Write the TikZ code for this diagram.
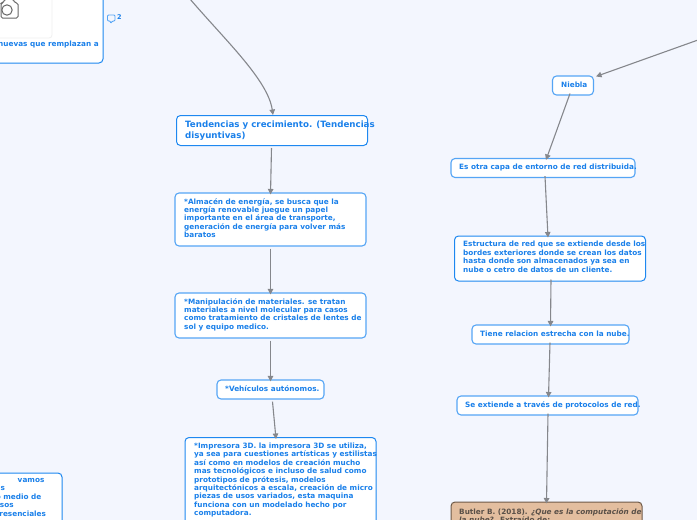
\documentclass[tikz,border=0pt]{standalone}
\usepackage{fontspec}
\setmainfont{DejaVu Sans}
\usetikzlibrary{arrows.meta}
\definecolor{bgc}{HTML}{F3F6FE}
\definecolor{edgeb}{HTML}{1E88F0}
\definecolor{softb}{HTML}{55A5F5}
\definecolor{txtb}{HTML}{1A80EA}
\definecolor{lnk}{HTML}{85878C}
\definecolor{tan}{HTML}{E3BE9F}
\definecolor{tanb}{HTML}{6E5A48}
\definecolor{tant}{HTML}{5A5048}
\tikzset{
 x=1pt,y=-1pt,
 card/.style={draw=softb,fill=white,line width=1.1pt,rounded corners=4pt,anchor=north west,inner sep=0pt,minimum height=#1},
 cardtext/.style={font=\bfseries\fontsize{7.3}{8.45}\selectfont,text=txtb,align=left,anchor=north west,inner sep=0pt},
 bigtext/.style={font=\bfseries\fontsize{8.7}{11}\selectfont,text=txtb,align=left,anchor=north west,inner sep=0pt},
 linkline/.style={draw=lnk,line width=1.1pt,-{Triangle[length=5.5pt,width=5.5pt]}},
}
\begin{document}
\begin{tikzpicture}
\useasboundingbox (0,0) rectangle (697,520);
\clip (0,0) rectangle (697,520);
\fill[bgc] (0,0) rectangle (697,520);
% boxes
\draw[draw=edgeb,fill=white,line width=1pt,rounded corners=4pt] (-10,-10) rectangle (103,63);
\draw[draw=black!6,fill=white,line width=.8pt,rounded corners=3pt] (-10,-10) rectangle (52,38);
\draw[draw=black!60,line width=1pt,rounded corners=1.5pt] (1,3) -- (3,3) -- (5,-1) -- (13,-1) -- (15,3) -- (18,3) -- (18,18) -- (1,18) -- cycle;
\draw[draw=black!60,line width=1pt] (7,10) circle (5.2);
\node[cardtext] (frag1) at (-2,41) {nuevas que remplazan a};
\draw[draw=softb,line width=.9pt,rounded corners=1pt] (107.5,15) -- (115,15) -- (115,21) -- (112.5,21) -- (110.5,23.5) -- (110.5,21) -- (107.5,21) -- cycle;
\node[cardtext,font=\bfseries\fontsize{6.5}{8}\selectfont] (num2) at (117,14.5) {2};

\draw[draw=edgeb,fill=white,line width=1pt,rounded corners=4pt] (-10,473) rectangle (62,530);
\node[cardtext] (frag2) at (-9,478) {\phantom{xxxxx}\hspace{3pt}vamos\\ \phantom{xx}s\\ \hspace{-3pt}mo medio de\\ ursos\\ \hspace{3pt}presenciales};

% centre column
\node[draw=edgeb,fill=white,line width=1pt,rounded corners=4pt,minimum width=191pt,minimum height=30pt,inner sep=0pt] (t0) at (272,130.5) {};
\node[bigtext] (t0t) at (185,120.5) {Tendencias y crecimiento. (Tendencias\\disyuntivas)};
\node[draw=softb,fill=white,line width=1.1pt,rounded corners=4pt,minimum width=191pt,minimum height=53pt,inner sep=0pt] (t1) at (270.5,219.5) {};
\node[cardtext] (t1t) at (184,198) {*Almacén de energía, se busca que la\\energía renovable juegue un papel\\importante en el área de transporte,\\generación de energía para volver más\\baratos};
\node[draw=softb,fill=white,line width=1.1pt,rounded corners=4pt,minimum width=191pt,minimum height=45pt,inner sep=0pt] (t2) at (270.5,315.5) {};
\node[cardtext] (t2t) at (184,298) {*Manipulación de materiales. se tratan\\materiales a nivel molecular para casos\\como tratamiento de cristales de lentes de\\sol y equipo medico.};
\node[draw=softb,fill=white,line width=1.1pt,rounded corners=4pt,minimum width=107pt,minimum height=19pt,inner sep=0pt] (t3) at (270.5,389.5) {};
\node[cardtext] (t3t) at (225,385.5) {*Vehículos autónomos.};
\node[draw=edgeb,fill=white,line width=1pt,rounded corners=4pt,minimum width=191pt,minimum height=100pt,inner sep=0pt] (t4) at (280.5,487.5) {};
\node[cardtext] (t4t) at (194,442.5) {*Impresora 3D. la impresora 3D se utiliza,\\ya sea para cuestiones artísticas y estilistas\\así como en modelos de creación mucho\\mas tecnológicos e incluso de salud como\\prototipos de prótesis, modelos\\arquitectónicos a escala, creación de micro\\piezas de usos variados, esta maquina\\funciona con un modelado hecho por\\computadora.};

% right column
\node[draw=softb,fill=white,line width=1.1pt,rounded corners=4pt,minimum width=41pt,minimum height=19pt,inner sep=0pt] (r0) at (573,85.5) {};
\node[cardtext] (r0t) at (561,81.5) {Niebla};
\node[draw=softb,fill=white,line width=1.1pt,rounded corners=4pt,minimum width=184pt,minimum height=19pt,inner sep=0pt] (r1) at (543,168) {};
\node[cardtext] (r1t) at (459,164) {Es otra capa de entorno de red distribuida.};
\node[draw=edgeb,fill=white,line width=1pt,rounded corners=4pt,minimum width=191pt,minimum height=45pt,inner sep=0pt] (r2) at (550,258.5) {};
\node[cardtext] (r2t) at (463,241) {Estructura de red que se extiende desde los\\bordes exteriores donde se crean los datos\\hasta donde son almacenados ya sea en\\nube o cetro de datos de un cliente.};
\node[draw=softb,fill=white,line width=1.1pt,rounded corners=4pt,minimum width=157pt,minimum height=19pt,inner sep=0pt] (r3) at (550.5,334.5) {};
\node[cardtext] (r3t) at (480,330.5) {Tiene relacion estrecha con la nube.};
\node[draw=softb,fill=white,line width=1.1pt,rounded corners=4pt,minimum width=181pt,minimum height=19pt,inner sep=0pt] (r4) at (547.5,405.5) {};
\node[cardtext] (r4t) at (465,401.5) {Se extiende a través de protocolos de red.};
\node[draw=tanb,fill=tan,line width=1pt,rounded corners=4pt,minimum width=191pt,minimum height=60pt,inner sep=0pt] (r5) at (546.5,532) {};
\node[cardtext,text=tant] (r5t) at (459,508) {Butler B. (2018). \textit{¿Que es la computación de}\\\textit{la nube?}. Extraído de:};

% connectors
\coordinate (topfree) at (190,-1);
\coordinate (rightfree) at (698,40);
\draw[linkline] (topfree) .. controls (225,40) and (268,80) .. (t0.north -| 273,0);
\draw[linkline] (t0.south) ++(-.5,2) -- ([yshift=-2pt]t1.north);
\draw[linkline] (t1.south) ++(0,2) -- ([yshift=-2pt]t2.north);
\draw[linkline] (t2.south) ++(0,2) -- ([yshift=-2pt]t3.north);
\draw[linkline] (t3.south) ++(2,2) -- ([xshift=-4.5pt,yshift=-2pt]t4.north);
\draw[linkline] (rightfree) -- ([xshift=2pt,yshift=-1pt]r0.north east);
\draw[linkline] ([xshift=-3pt,yshift=2pt]r0.south) -- ([yshift=-2pt,xshift=3pt]r1.north);
\draw[linkline] ([xshift=2pt,yshift=2pt]r1.south) -- ([xshift=-2pt,yshift=-2pt]r2.north);
\draw[linkline] ([xshift=1pt,yshift=2pt]r2.south) -- ([yshift=-2pt]r3.north);
\draw[linkline] ([xshift=-.5pt,yshift=2pt]r3.south) -- ([xshift=1pt,yshift=-2pt]r4.north);
\draw[linkline] ([xshift=.5pt,yshift=2pt]r4.south) -- ([yshift=-2pt]r5.north);
\end{tikzpicture}
\end{document}
